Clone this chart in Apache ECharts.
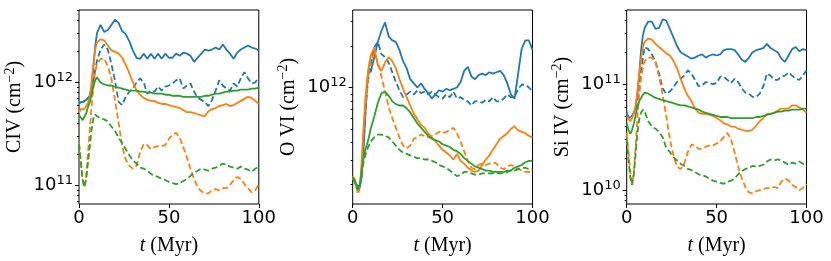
<!DOCTYPE html>
<html><head><meta charset="utf-8">
<script src="https://cdn.jsdelivr.net/npm/echarts@6/dist/echarts.min.js"></script>
<style>html,body{margin:0;padding:0;background:#fff}#c{width:831px;height:261px}</style>
</head><body><div id="c"></div>
<script>
// time (Myr)
const tMyr = [0,1,2,3,4,5,6,7,8,9,10,12,14,16,18,20,22,24,26,28,30,32,34,36,38,40,42,44,46,48,50,52,54,56,58,60,62,64,66,68,70,72,74,76,78,80,82,84,86,88,90,92,94,96,98,100];

// log10 of column density (cm^-2)
// ---- C IV ----
const civBlueSolid = [11.80,11.81,11.81,11.80,11.83,11.85,11.87,11.95,12.15,12.35,12.48,
  12.56,12.49,12.51,12.56,12.61,12.58,12.50,12.47,12.40,12.31,12.24,12.23,12.28,12.23,12.28,12.23,12.28,12.23,12.28,12.24,
  12.24,12.28,12.26,12.29,12.28,12.26,12.20,12.24,12.28,12.32,12.31,12.32,12.34,12.32,12.37,12.32,12.28,12.23,12.29,12.32,12.34,12.36,12.34,12.33,12.31];
const civBlueDashed = [11.80,11.81,11.81,11.80,11.82,11.84,11.87,11.93,12.02,12.12,12.21,
  12.32,12.37,12.32,12.18,12.02,11.81,11.78,11.86,11.91,11.94,12.00,12.04,12.00,11.89,11.92,11.91,11.96,11.92,11.96,11.97,
  11.99,12.02,12.04,11.94,11.97,11.99,11.91,11.85,11.83,11.81,11.77,11.83,11.92,12.02,11.97,11.94,11.92,11.99,11.96,12.04,12.10,12.04,11.99,12.00,12.05];
const civOrangeSolid = [11.70,11.74,11.75,11.74,11.77,11.80,11.86,12.00,12.18,12.32,12.39,
  12.42,12.41,12.36,12.31,12.30,12.28,12.24,12.17,12.09,12.00,11.92,11.88,11.85,11.83,11.82,11.82,11.80,11.79,11.79,11.78,
  11.77,11.76,11.75,11.73,11.71,11.71,11.70,11.69,11.68,11.67,11.72,11.74,11.75,11.77,11.78,11.79,11.77,11.78,11.80,11.82,11.84,11.86,11.85,11.82,11.79];
const civOrangeDashed = [11.41,11.25,11.06,10.98,11.09,11.32,11.54,11.77,11.96,12.10,12.18,
  12.23,12.23,12.16,12.04,11.83,11.61,11.38,11.25,11.19,11.16,11.19,11.32,11.40,11.39,11.35,11.37,11.38,11.38,11.39,11.45,
  11.49,11.51,11.46,11.37,11.27,11.16,11.06,10.98,10.94,10.92,10.92,10.95,10.96,10.95,10.97,10.97,11.00,11.05,11.08,11.06,11.01,10.97,10.93,10.95,11.01];
const civGreenSolid = [11.68,11.66,11.63,11.64,11.70,11.76,11.81,11.88,11.96,12.02,12.05,
  12.00,11.98,11.97,11.97,11.96,11.95,11.94,11.93,11.92,11.92,11.92,11.91,11.91,11.90,11.90,11.89,11.89,11.89,11.88,11.88,
  11.87,11.87,11.87,11.86,11.86,11.86,11.86,11.86,11.86,11.87,11.87,11.88,11.89,11.89,11.90,11.91,11.91,11.92,11.92,11.93,11.93,11.93,11.94,11.94,11.95];
const civGreenDashed = [11.40,11.22,11.05,10.98,11.06,11.22,11.38,11.54,11.65,11.69,11.67,
  11.65,11.64,11.62,11.57,11.53,11.46,11.41,11.35,11.29,11.24,11.21,11.17,11.16,11.14,11.11,11.09,11.08,11.06,11.05,11.03,
  11.02,11.01,11.02,11.04,11.06,11.09,11.12,11.14,11.16,11.15,11.14,11.16,11.17,11.19,11.21,11.20,11.18,11.17,11.16,11.18,11.16,11.15,11.13,11.16,11.18];
// ---- O VI ----
const oviBlueSolid = [11.35,11.33,11.30,11.29,11.28,11.36,11.55,11.79,12.03,12.14,12.11,
  12.22,12.33,12.41,12.47,12.37,12.34,12.33,12.27,12.19,12.14,12.06,12.03,12.00,12.03,11.99,11.96,11.92,11.95,11.98,11.97,
  11.99,11.98,11.99,12.00,12.04,12.12,12.15,12.08,12.06,12.09,12.10,12.09,12.11,12.10,12.11,12.12,12.09,12.03,11.95,11.92,12.10,12.28,12.34,12.34,12.27];
const oviBlueDashed = [11.35,11.33,11.30,11.29,11.28,11.36,11.58,11.81,11.98,12.10,12.17,
  12.29,12.33,12.24,12.22,12.18,12.11,12.04,11.98,11.93,11.95,11.97,11.95,11.98,11.96,11.97,11.95,11.97,11.95,11.93,11.92,
  11.95,11.93,11.97,11.92,11.93,11.91,11.90,11.87,11.90,11.90,11.89,11.91,11.90,11.93,11.90,11.90,11.92,11.95,11.93,11.93,11.99,12.02,12.02,12.00,11.97];
const oviOrangeSolid = [11.36,11.34,11.29,11.26,11.29,11.46,11.70,11.91,12.05,12.16,12.23,
  12.29,12.16,12.12,12.18,12.22,12.19,12.14,12.06,11.99,11.93,11.87,11.81,11.77,11.73,11.71,11.67,11.64,11.61,11.58,11.55,
  11.53,11.51,11.48,11.52,11.47,11.45,11.42,11.40,11.39,11.40,11.44,11.48,11.51,11.55,11.59,11.63,11.65,11.67,11.70,11.72,11.69,11.68,11.67,11.65,11.64];
const oviOrangeDashed = [11.34,11.32,11.28,11.23,11.28,11.44,11.67,11.86,12.00,12.12,12.19,
  12.25,12.18,12.08,11.97,11.86,11.78,11.71,11.64,11.58,11.56,11.58,11.63,11.64,11.66,11.65,11.64,11.65,11.66,11.68,11.67,
  11.68,11.69,11.71,11.67,11.61,11.54,11.47,11.42,11.41,11.44,11.45,11.44,11.45,11.46,11.45,11.42,11.41,11.43,11.44,11.43,11.41,11.40,11.39,11.39,11.38];
const oviGreenSolid = [11.35,11.33,11.29,11.27,11.29,11.39,11.49,11.55,11.59,11.64,11.70,
  11.79,11.89,11.96,11.97,11.94,11.90,11.88,11.87,11.87,11.85,11.82,11.78,11.74,11.71,11.68,11.65,11.63,11.62,11.61,11.59,
  11.58,11.57,11.55,11.54,11.52,11.49,11.47,11.45,11.43,11.42,11.41,11.40,11.40,11.39,11.39,11.39,11.39,11.40,11.40,11.42,11.43,11.44,11.46,11.47,11.47];
const oviGreenDashed = [11.34,11.32,11.28,11.26,11.29,11.38,11.46,11.51,11.55,11.58,11.61,
  11.64,11.66,11.66,11.65,11.64,11.61,11.58,11.55,11.53,11.52,11.51,11.50,11.49,11.49,11.48,11.48,11.47,11.46,11.44,11.43,
  11.42,11.40,11.38,11.36,11.37,11.39,11.39,11.38,11.37,11.37,11.38,11.38,11.38,11.38,11.38,11.38,11.38,11.39,11.40,11.40,11.41,11.42,11.42,11.41,11.41];
// ---- Si IV ----
const siBlueSolid = [10.73,10.68,10.67,10.70,10.73,10.79,10.91,11.10,11.32,11.46,11.53,
  11.59,11.59,11.52,11.53,11.61,11.60,11.52,11.44,11.36,11.30,11.28,11.26,11.24,11.25,11.27,11.28,11.25,11.27,11.28,11.27,
  11.28,11.32,11.33,11.33,11.32,11.28,11.23,11.21,11.25,11.30,11.32,11.33,11.34,11.38,11.34,11.32,11.30,11.24,11.21,11.27,11.33,11.35,11.31,11.33,11.32];
const siBlueDashed = [10.73,10.68,10.67,10.70,10.73,10.77,10.88,11.01,11.13,11.25,11.35,
  11.33,11.28,11.21,11.10,10.96,10.91,10.93,10.97,11.02,11.05,11.08,11.13,11.10,11.04,10.98,10.99,11.02,11.01,11.00,11.01,
  11.07,11.07,11.04,11.01,11.05,11.02,10.96,10.92,10.91,10.88,10.88,10.91,10.98,11.10,11.08,11.04,11.04,11.07,11.08,11.11,11.08,11.05,11.04,11.08,11.13];
const siOrangeSolid = [10.70,10.67,10.65,10.68,10.73,10.80,10.94,11.10,11.24,11.35,11.40,
  11.43,11.42,11.38,11.35,11.32,11.29,11.27,11.22,11.15,11.05,10.96,10.89,10.84,10.77,10.73,10.72,10.72,10.71,10.70,10.68,
  10.66,10.63,10.62,10.60,10.60,10.58,10.57,10.56,10.56,10.57,10.61,10.65,10.68,10.72,10.72,10.73,10.75,10.77,10.77,10.77,10.80,10.80,10.78,10.76,10.73];
const siOrangeDashed = [10.54,10.36,10.17,10.06,10.17,10.42,10.70,10.91,11.05,11.16,11.22,
  11.25,11.25,11.21,11.07,10.90,10.70,10.48,10.33,10.22,10.20,10.25,10.36,10.43,10.42,10.39,10.39,10.41,10.42,10.42,10.44,
  10.46,10.50,10.54,10.48,10.36,10.22,10.11,10.03,9.98,9.97,9.99,10.00,10.01,10.02,10.02,10.03,10.02,10.08,10.11,10.09,10.05,10.03,10.00,10.02,10.06];
const siGreenSolid = [10.63,10.57,10.53,10.57,10.63,10.71,10.79,10.84,10.87,10.90,10.92,
  10.91,10.89,10.87,10.86,10.85,10.84,10.83,10.82,10.81,10.80,10.80,10.79,10.78,10.77,10.76,10.74,10.73,10.72,10.71,10.70,
  10.69,10.69,10.69,10.68,10.68,10.68,10.68,10.68,10.68,10.68,10.69,10.69,10.70,10.71,10.72,10.73,10.74,10.74,10.75,10.75,10.76,10.76,10.76,10.77,10.77];
const siGreenDashed = [10.48,10.29,10.12,10.05,10.15,10.36,10.54,10.67,10.73,10.76,10.74,
  10.65,10.60,10.58,10.55,10.50,10.40,10.36,10.31,10.28,10.25,10.23,10.20,10.19,10.17,10.15,10.14,10.13,10.11,10.09,10.08,
  10.07,10.06,10.08,10.09,10.11,10.15,10.18,10.20,10.21,10.23,10.22,10.23,10.24,10.27,10.29,10.28,10.29,10.28,10.26,10.24,10.26,10.25,10.27,10.25,10.22];

const ionNames = ['CIV', 'O VI', 'Si IV'];
const yMin = [6.55e10, 1.44e11, 7.41e9];
const yMax = [5.07e12, 3.63e12, 5.0e11];
const majorTicks = [[1e11, 1e12], [1e12], [1e10, 1e11]];
const minorTicks = [
  [7e10,8e10,9e10,2e11,3e11,4e11,5e11,6e11,7e11,8e11,9e11,2e12,3e12,4e12,5e12],
  [2e11,3e11,4e11,5e11,6e11,7e11,8e11,9e11,2e12,3e12],
  [8e9,9e9,2e10,3e10,4e10,5e10,6e10,7e10,8e10,9e10,2e11,3e11,4e11,5e11]
];
const xTicks = [0, 50, 100];

const panels = [
  [civBlueSolid, civBlueDashed, civOrangeSolid, civOrangeDashed, civGreenSolid, civGreenDashed],
  [oviBlueSolid, oviBlueDashed, oviOrangeSolid, oviOrangeDashed, oviGreenSolid, oviGreenDashed],
  [siBlueSolid, siBlueDashed, siOrangeSolid, siOrangeDashed, siGreenSolid, siGreenDashed]
];
const colors = ['#1f77b4', '#1f77b4', '#ff7f0e', '#ff7f0e', '#2ca02c', '#2ca02c'];
const dashed = [false, true, false, true, false, true];

const gridLefts = [79, 352.7, 626.7];
const W = 179.8, TOP = 10, H = 197;

const serif = '"Liberation Serif", "DejaVu Serif", serif';
const sans = '"DejaVu Sans", sans-serif';

const grids = [], xAxes = [], yAxes = [], series = [];
for (let p = 0; p < 3; p++) {
  grids.push({ left: gridLefts[p], top: TOP, width: W, height: H, show: true, borderColor: '#000', borderWidth: 1, backgroundColor: 'transparent' });
  xAxes.push({
    type: 'value', gridIndex: p, min: 0, max: 100, interval: 50,
    axisLine: { show: false }, splitLine: { show: false },
    axisTick: { show: true, length: 4, lineStyle: { color: '#000', width: 1 } },
    axisLabel: { color: '#000', fontFamily: sans, fontSize: 18, margin: 5 },
    name: '{i|t}{r| (Myr)}', nameLocation: 'middle', nameGap: 32,
    nameTextStyle: { rich: {
      i: { fontFamily: serif, fontStyle: 'italic', fontSize: 20, color: '#000' },
      r: { fontFamily: serif, fontSize: 20, color: '#000' } } }
  });
  yAxes.push({
    type: 'log', logBase: 10, gridIndex: p, position: 'left', min: yMin[p], max: yMax[p],
    axisLine: { show: false }, splitLine: { show: false }, minorTick: { show: false },
    axisTick: { show: true, length: 4, lineStyle: { color: '#000', width: 1 }, customValues: majorTicks[p] },
    axisLabel: {
      customValues: majorTicks[p], margin: 6,
      formatter: v => '{b|10}{s|' + Math.round(Math.log10(v)) + '}',
      rich: {
        b: { fontFamily: sans, fontSize: 18, color: '#000' },
        s: { fontFamily: sans, fontSize: 13, color: '#000', padding: [0, 0, 10, 0] }
      }
    },
    name: '{r|' + ionNames[p] + ' (cm}{s|\u22122}{r|)}', nameLocation: 'middle', nameRotate: 90, nameGap: 52,
    nameTextStyle: { rich: {
      r: { fontFamily: serif, fontSize: 20, color: '#000' },
      s: { fontFamily: serif, fontSize: 14, color: '#000', padding: [0, 0, 10, 0] } } }
  });
  yAxes.push({
    type: 'log', logBase: 10, gridIndex: p, position: 'left', offset: 0, min: yMin[p], max: yMax[p],
    axisLine: { show: false }, splitLine: { show: false }, axisLabel: { show: false },
    axisTick: { show: true, length: 2, lineStyle: { color: '#000', width: 1 }, customValues: minorTicks[p] }
  });
  panels[p].forEach((arr, k) => {
    series.push({
      type: 'line', xAxisIndex: p, yAxisIndex: 2 * p,
      data: tMyr.map((t, i) => [t, Math.pow(10, arr[i])]),
      showSymbol: false, symbol: 'none', silent: true,
      lineStyle: { color: colors[k], width: 1.8, type: dashed[k] ? [6, 3] : 'solid' }
    });
  });
}

const chart = echarts.init(document.getElementById('c'), null, { renderer: 'canvas' });
chart.setOption({ animation: false, backgroundColor: '#fff', grid: grids, xAxis: xAxes, yAxis: yAxes, series: series });
</script></body></html>
